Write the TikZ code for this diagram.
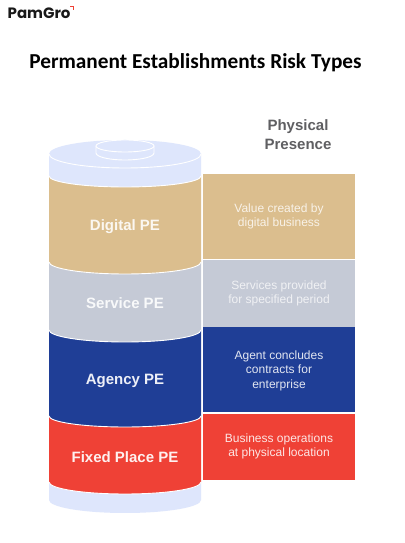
\documentclass[tikz,border=0pt]{standalone}
\usepackage{xcolor}
\usepackage{fontspec}
\setmainfont{Liberation Sans}
\newfontfamily\titlefont{Carlito}
\newfontfamily\logofont{Poppins}
\definecolor{pltan}{RGB}{219,190,142}
\definecolor{plgray}{RGB}{197,202,214}
\definecolor{plblue}{RGB}{31,62,150}
\definecolor{plred}{RGB}{239,65,54}
\definecolor{pllight}{RGB}{222,230,252}
\definecolor{plhead}{RGB}{95,95,98}
\tikzset{
  bandlabel/.style={font=\fontsize{15}{18}\selectfont\bfseries,align=center},
  factbox/.style={minimum width=152pt,inner sep=0pt,anchor=north west,
    font=\fontsize{12}{14.4}\selectfont,align=center},
  facttext/.style={font=\fontsize{12}{14.4}\selectfont,align=center},
}
\begin{document}
\begin{tikzpicture}[x=1pt,y=1pt]
    \useasboundingbox (0,0) rectangle (404,543);
    \fill[white] (0,0) rectangle (404,543);
    % logo and title
    \node[font=\logofont\fontsize{15}{15}\selectfont\bfseries,anchor=west,inner sep=0pt,text=black!90]
      (logo) at (7.5,529.5) {PamGro};
    \draw[plred,line width=1.3pt] (70,536.5) -- (73.5,536.5) -- (73.5,533);
    \node[font=\titlefont\fontsize{21.3}{24}\selectfont\bfseries] (title) at (195.5,480.5) {Permanent Establishments Risk Types};
    \node[font=\fontsize{15}{19}\selectfont\bfseries,text=plhead,align=center] (presence) at (298,408.5) {Physical\\Presence};
    % the cylinder, from the bottom up
    \fill[pllight] (49,61) -- (49,43) arc[start angle=180,end angle=360,x radius=76,y radius=13] -- (201,61) -- cycle;
    \foreach \c/\yb/\yt/\ry in {plred/61/127/12, plblue/127/213/11, plgray/213/281/12, pltan/281/367/12, pllight/367/389/11}{
      \fill[\c] (49,\yt) -- (49,\yb) arc[start angle=180,end angle=360,x radius=76,y radius=\ry] -- (201,\yt) -- cycle;
      \draw[white,line width=0.9pt] (49,\yb) arc[start angle=180,end angle=360,x radius=76,y radius=\ry];}
    % the lid
    \fill[pllight] (125,389) ellipse (76 and 14);
    \draw[white,line width=0.9pt] (49,389) arc[start angle=180,end angle=360,x radius=76,y radius=14];
    \draw[white,line width=0.9pt,fill=pllight] (96,397) -- (96,390) arc[start angle=180,end angle=360,x radius=29,y radius=7] -- (154,397);
    \draw[white,line width=0.9pt,fill=pllight] (125,397) ellipse (29 and 6);
    \node[bandlabel,text=white!88!pltan] (digital) at (125,316) {Digital PE};
    \node[bandlabel,text=white!88!plgray] (service) at (125,239.5) {Service PE};
    \node[bandlabel,text=white!92!plblue] (agency) at (125,162) {Agency PE};
    \node[bandlabel,text=white!92!plred] (fixed) at (125,85.5) {Fixed Place PE};
    % the panel on the right
    \node[factbox,fill=pltan,minimum height=85pt] (valuebox) at (203,369) {};
    \node[factbox,fill=plgray,minimum height=66.5pt] (servicebox) at (203,283) {};
    \node[factbox,fill=plblue,minimum height=85pt] (agentbox) at (203,216) {};
    \node[factbox,fill=plred,minimum height=66pt] (placebox) at (203,129.5) {};
    \node[facttext,text=white!80!pltan] (valuetext) at (279,326.5) {Value created by\\digital business};
    \node[facttext,text=white!74!plgray] (servicetext) at (279,249.5) {Services provided\\for specified period};
    \node[facttext,text=white!87!plblue] (agenttext) at (279,172.5) {Agent concludes\\contracts for\\enterprise};
    \node[facttext,text=white!87!plred] (placetext) at (279,96.5) {Business operations\\at physical location};
\end{tikzpicture}
\end{document}
